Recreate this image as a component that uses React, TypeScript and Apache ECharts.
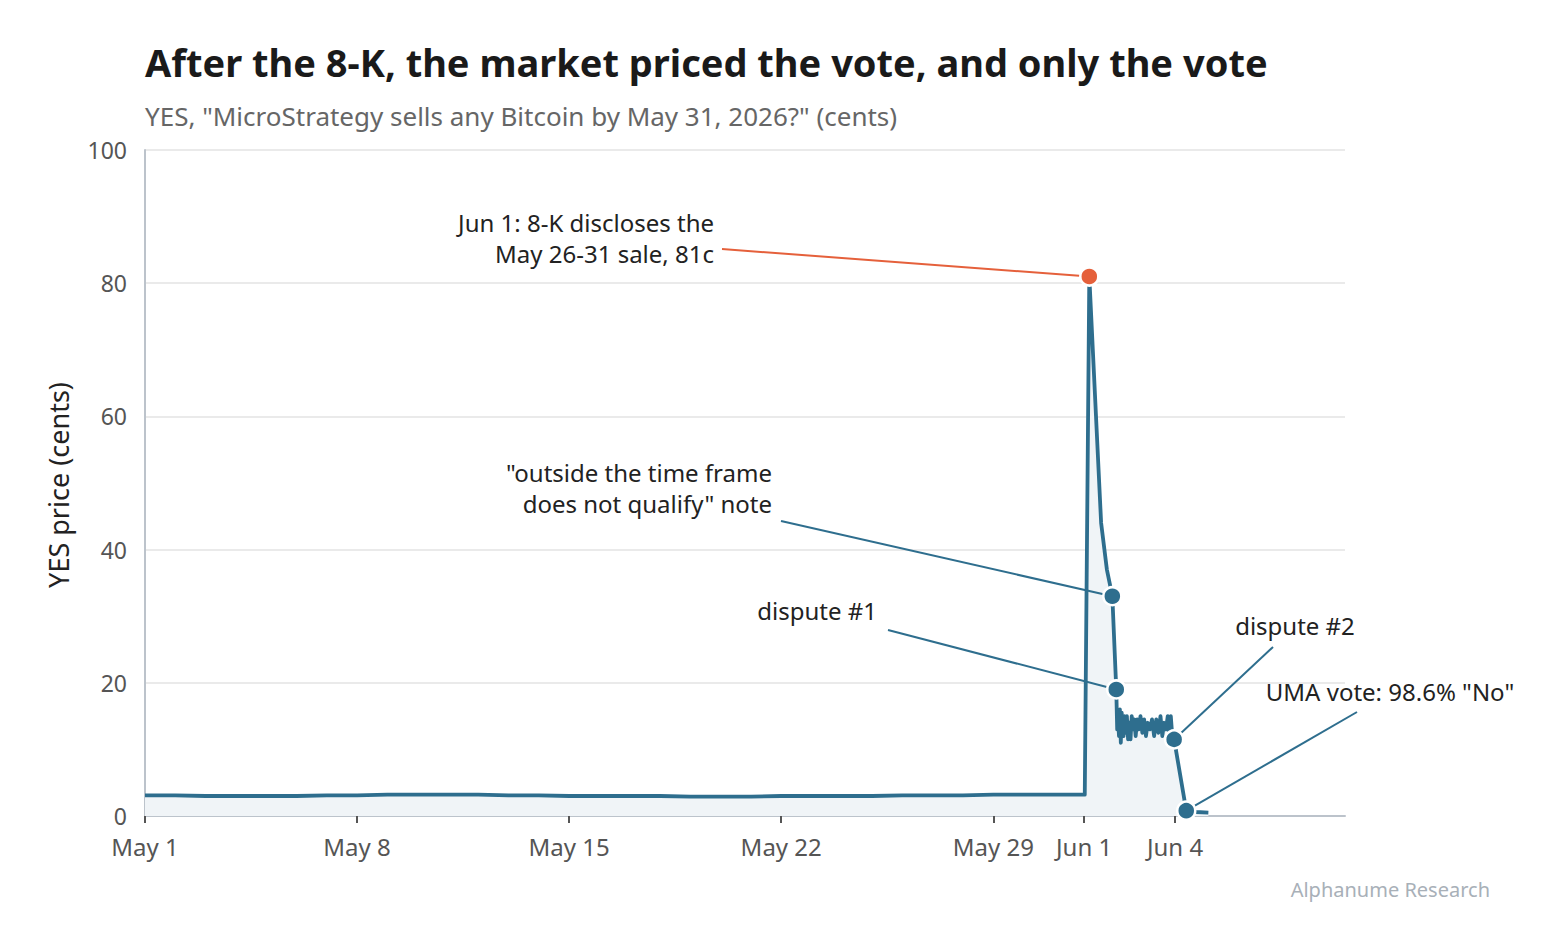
import { useEffect, useRef } from 'react'
import * as echarts from 'echarts'

// days after May 1, 2026 and YES price in cents
const priceDays = [
  0, 1, 2, 3, 4, 5, 6, 7, 8, 9, 10, 11, 12, 13, 14, 15, 16, 17, 18, 19, 20,
  21, 22, 23, 24, 25, 26, 27, 28, 29, 30, 31.02,
  31.17, 31.56, 31.75, 31.93, 32.06,
  32.09, 32.12, 32.15, 32.18, 32.21, 32.24, 32.27, 32.3, 32.33, 32.37, 32.41,
  32.45, 32.49, 32.53, 32.57, 32.61, 32.65, 32.7, 32.75, 32.8, 32.86, 32.92,
  32.98, 33.04, 33.1, 33.17, 33.24, 33.31, 33.38, 33.45, 33.52, 33.58, 33.64,
  33.7, 33.76, 33.82, 33.86, 33.9,
  33.97, 34.37, 34.7, 35.1
]
const priceValues = [
  3.1, 3.1, 3.0, 3.0, 3.0, 3.0, 3.1, 3.1, 3.2, 3.2, 3.2, 3.2, 3.1, 3.1, 3.0,
  3.0, 3.0, 3.0, 2.9, 2.9, 2.9, 3.0, 3.0, 3.0, 3.0, 3.1, 3.1, 3.1, 3.2, 3.2,
  3.2, 3.2,
  81, 44, 37, 33, 19,
  13.0, 14.5, 12.0, 16.0, 11.0, 15.5, 13.0, 12.0, 15.0, 12.5, 15.0,
  11.5, 14.0, 11.5, 15.0, 13.0, 14.5, 12.0, 14.5, 13.0, 15.0, 12.5,
  14.5, 12.0, 14.0, 13.0, 14.5, 12.0, 14.5, 12.5, 15.0, 12.0, 14.0,
  13.0, 15.0, 12.0, 15.0, 12.5,
  11.5, 0.8, 0.6, 0.5
]

const tickDays = [0, 7, 14, 21, 28, 31, 34]

const noteDays = [31.17, 31.93, 32.06, 33.97, 34.37]
const noteValues = [81, 33, 19, 11.5, 0.8]
const noteTexts = [
  ['Jun 1: 8-K discloses the', 'May 26-31 sale, 81c'],
  ['"outside the time frame', 'does not qualify" note'],
  ['dispute #1'],
  ['dispute #2'],
  ['UMA vote: 98.6% "No"']
]

const MONTHS = ['Jan', 'Feb', 'Mar', 'Apr', 'May', 'Jun', 'Jul', 'Aug', 'Sep', 'Oct', 'Nov', 'Dec']
const FONT = '"Noto Sans", "Open Sans", sans-serif'
const BLUE = '#2e6e8e'
const ORANGE = '#e5603b'

function dayLabel(day: number): string {
  const d = new Date(Date.UTC(2026, 4, 1) + Math.round(day) * 86400000)
  return `${MONTHS[d.getUTCMonth()]} ${d.getUTCDate()}`
}

// text anchor (x, y of first line, align) and start of the leader line, in pixels
const noteLayout = [
  { x: 714, y: 222, align: 'right', lx: 722, ly: 249, color: ORANGE },
  { x: 772, y: 472, align: 'right', lx: 781, ly: 521, color: BLUE },
  { x: 877, y: 610, align: 'right', lx: 888, ly: 630, color: BLUE },
  { x: 1295, y: 625, align: 'center', lx: 1273, ly: 647, color: BLUE },
  { x: 1390, y: 691, align: 'center', lx: 1357, ly: 712, color: BLUE }
]
const LINE_GAP = 31

export default function App() {
  const ref = useRef<HTMLDivElement>(null)

  useEffect(() => {
    document.body.style.margin = '0'
    if (!ref.current) return
    const chart = echarts.init(ref.current, undefined, { renderer: 'svg' })

    const option: echarts.EChartsOption = {
      animation: false,
      backgroundColor: '#ffffff',
      textStyle: { fontFamily: FONT },
      grid: { left: 145, right: 220, top: 150, bottom: 129 },
      xAxis: {
        type: 'value',
        min: 0,
        max: 39.61,
        splitLine: { show: false },
        axisLine: { show: true, onZero: false, lineStyle: { color: '#bcc3cb', width: 2 } },
        axisTick: { show: true, length: 7, customValues: tickDays, lineStyle: { color: '#555', width: 2 } },
        axisLabel: {
          customValues: tickDays,
          formatter: (v: number) => dayLabel(v),
          color: '#555',
          fontSize: 24,
          margin: 18,
          fontFamily: FONT
        }
      },
      yAxis: {
        type: 'value',
        min: 0,
        max: 100,
        interval: 20,
        axisLine: { show: true, lineStyle: { color: '#bcc3cb', width: 2 } },
        axisTick: { show: false },
        splitLine: { lineStyle: { color: '#e3e3e3', width: 1.5 } },
        axisLabel: { color: '#555', fontSize: 23, margin: 18, fontFamily: FONT }
      },
      series: [
        {
          type: 'line',
          data: priceDays.map((d, i) => [d, priceValues[i]]),
          showSymbol: false,
          lineStyle: { color: BLUE, width: 3.8, join: 'round' },
          areaStyle: { color: '#f0f4f7', opacity: 1 },
          z: 2
        },
        {
          type: 'scatter',
          data: noteDays.map((d, i) => ({
            value: [d, noteValues[i]],
            itemStyle: { color: i === 0 ? ORANGE : BLUE }
          })),
          symbolSize: 18,
          itemStyle: { borderColor: '#ffffff', borderWidth: 2.5, opacity: 1 },
          z: 5
        }
      ]
    }
    chart.setOption(option)

    const texts: any[] = [
      {
        type: 'text', x: 145, y: 62, z: 10,
        style: {
          text: 'After the 8-K, the market priced the vote, and only the vote',
          font: `bold 38px ${FONT}`, fill: '#1a1a1a', verticalAlign: 'middle'
        }
      },
      {
        type: 'text', x: 145, y: 116, z: 10,
        style: {
          text: 'YES, "MicroStrategy sells any Bitcoin by May 31, 2026?" (cents)',
          font: `26px ${FONT}`, fill: '#666', verticalAlign: 'middle'
        }
      },
      {
        type: 'text', x: 58, y: 485, rotation: Math.PI / 2, z: 10,
        style: {
          text: 'YES price (cents)', font: `27px ${FONT}`, fill: '#222',
          align: 'center', verticalAlign: 'middle'
        }
      },
      {
        type: 'text', x: 1490, y: 889, z: 10,
        style: {
          text: 'Alphanume Research', font: `20px ${FONT}`, fill: '#a8b0b8',
          align: 'right', verticalAlign: 'middle'
        }
      }
    ]

    noteLayout.forEach((n, i) => {
      const p = chart.convertToPixel({ gridIndex: 0 }, [noteDays[i], noteValues[i]]) as number[]
      noteTexts[i].forEach((line, k) => {
        texts.push({
          type: 'text', x: n.x, y: n.y + k * LINE_GAP, z: 10,
          style: {
            text: line, font: `24px ${FONT}`, fill: '#222',
            align: n.align, verticalAlign: 'middle'
          }
        })
      })
      texts.push({
        type: 'line', z: 3,
        shape: { x1: n.lx, y1: n.ly, x2: p[0], y2: p[1] },
        style: { stroke: n.color, lineWidth: 2 }
      })
    })

    chart.setOption({ graphic: { elements: texts } })

    return () => chart.dispose()
  }, [])

  return <div ref={ref} style={{ width: 1565, height: 945 }} />
}
